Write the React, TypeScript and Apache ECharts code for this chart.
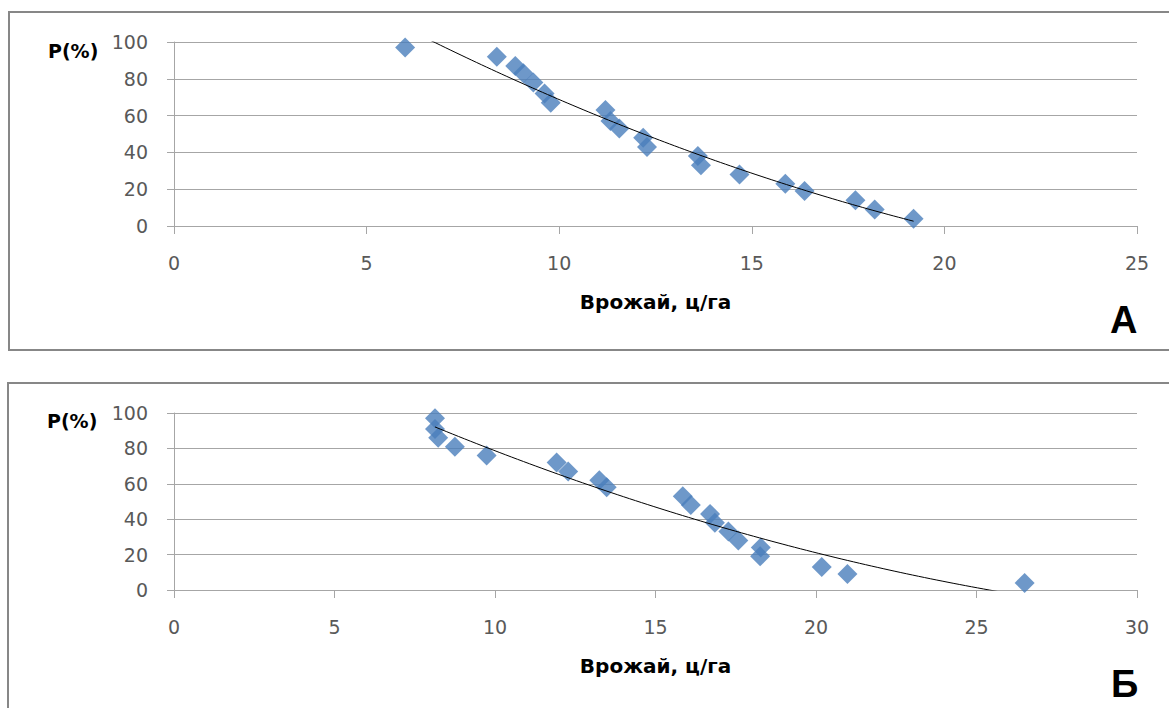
import React, { useEffect, useRef } from "react";
import * as echarts from "echarts";

// Chart A data
const yieldA = [6.0, 8.38, 8.86, 9.07, 9.33, 9.62, 9.78, 11.2, 11.33, 11.56, 12.18, 12.28, 13.6, 13.68, 14.68, 15.87, 16.37, 17.69, 18.19, 19.2];
const probA = [97, 92, 87, 83, 78, 72, 67, 63, 57, 53, 48, 43, 38, 33, 28, 23, 19, 14, 9, 4];

// Chart Б data
const yieldB = [8.13, 8.13, 8.23, 8.75, 9.74, 11.92, 12.28, 13.25, 13.48, 15.85, 16.1, 16.7, 16.85, 17.27, 17.58, 18.28, 18.26, 20.18, 20.98, 26.5];
const probB = [97, 91, 86, 81, 76, 72, 67, 62, 58, 53, 48, 43, 38, 33, 28, 24, 19, 13, 9, 4];

const yTicks = [0, 20, 40, 60, 80, 100];
const xMaxA = 25;
const xMaxB = 30;

// least-squares polynomial (order 2) trendline
function quadFit(xs: number[], ys: number[]) {
  const n = xs.length;
  let s1 = 0, s2 = 0, s3 = 0, s4 = 0, t0 = 0, t1 = 0, t2 = 0;
  for (let i = 0; i < n; i++) {
    const x = xs[i], y = ys[i];
    s1 += x; s2 += x * x; s3 += x * x * x; s4 += x * x * x * x;
    t0 += y; t1 += x * y; t2 += x * x * y;
  }
  const M = [
    [n, s1, s2, t0],
    [s1, s2, s3, t1],
    [s2, s3, s4, t2],
  ];
  for (let c = 0; c < 3; c++) {
    let p = c;
    for (let r = c + 1; r < 3; r++) if (Math.abs(M[r][c]) > Math.abs(M[p][c])) p = r;
    [M[c], M[p]] = [M[p], M[c]];
    for (let r = 0; r < 3; r++) {
      if (r === c) continue;
      const f = M[r][c] / M[c][c];
      for (let k = c; k < 4; k++) M[r][k] -= f * M[c][k];
    }
  }
  const a = M[0][3] / M[0][0], b = M[1][3] / M[1][1], cc = M[2][3] / M[2][2];
  return (x: number) => a + b * x + cc * x * x;
}

function trend(xs: number[], ys: number[]) {
  const f = quadFit(xs, ys);
  const lo = Math.min(...xs), hi = Math.max(...xs);
  const pts: number[][] = [];
  const steps = 100;
  for (let i = 0; i <= steps; i++) {
    const x = lo + ((hi - lo) * i) / steps;
    pts.push([x, f(x)]);
  }
  return pts;
}

const FONT = "'DejaVu Sans', Verdana, sans-serif";
const GRID_COLOR = "#a6a6a6";
const LABEL_COLOR = "#595959";

function xAxisCfg(gridIndex: number, max: number, gap: number) {
  return {
    gridIndex,
    type: "value",
    min: 0,
    max,
    interval: 5,
    name: "Врожай, ц/га",
    nameLocation: "middle",
    nameGap: gap,
    nameTextStyle: { fontFamily: FONT, fontWeight: "bold", fontSize: 20, color: "#000" },
    axisLine: { show: true, onZero: false, lineStyle: { color: GRID_COLOR, width: 1 } },
    axisTick: { show: true, length: 8, lineStyle: { color: GRID_COLOR } },
    axisLabel: { fontFamily: FONT, fontSize: 19, color: LABEL_COLOR, margin: 27 },
    splitLine: { show: false },
  };
}

function yAxisCfg(gridIndex: number) {
  return {
    gridIndex,
    type: "value",
    min: yTicks[0],
    max: yTicks[yTicks.length - 1],
    interval: 20,
    axisLine: { show: true, lineStyle: { color: GRID_COLOR, width: 1 } },
    axisTick: { show: true, length: 7, lineStyle: { color: GRID_COLOR } },
    axisLabel: { fontFamily: FONT, fontSize: 19, color: LABEL_COLOR, margin: 26 },
    splitLine: { show: true, lineStyle: { color: GRID_COLOR, width: 1 } },
  };
}

export default function App() {
  const ref = useRef<HTMLDivElement>(null);
  useEffect(() => {
    if (!ref.current) return;
    const chart = echarts.init(ref.current, undefined, { renderer: "svg" });
    const scatterStyle = { color: "#4a7ebb" };
    chart.setOption({
      animation: false,
      backgroundColor: "#ffffff",
      grid: [
        { left: 174, right: 32, top: 42, height: 184 },
        { left: 174, right: 32, top: 413, height: 177 },
      ],
      xAxis: [xAxisCfg(0, xMaxA, 66), xAxisCfg(1, xMaxB, 66)],
      yAxis: [yAxisCfg(0), yAxisCfg(1)],
      graphic: [
        { type: "rect", shape: { x: 9, y: 12, width: 1180, height: 338 }, style: { fill: "none", stroke: "#878787", lineWidth: 2 }, silent: true },
        { type: "rect", shape: { x: 8, y: 383, width: 1180, height: 360 }, style: { fill: "none", stroke: "#878787", lineWidth: 2 }, silent: true },
        { type: "text", x: 48, y: 41, style: { text: "P(%)", fontFamily: FONT, fontWeight: "bold", fontSize: 19, fill: "#000" } },
        { type: "text", x: 47, y: 411, style: { text: "P(%)", fontFamily: FONT, fontWeight: "bold", fontSize: 19, fill: "#000" } },
        { type: "text", x: 1110, y: 301, style: { text: "A", fontFamily: "'Liberation Sans', Arial, sans-serif", fontWeight: "bold", fontSize: 38, fill: "#000" } },
        { type: "text", x: 1111, y: 665, style: { text: "Б", fontFamily: "'Liberation Sans', Arial, sans-serif", fontWeight: "bold", fontSize: 38, fill: "#000" } },
      ],
      series: [
        {
          type: "scatter", xAxisIndex: 0, yAxisIndex: 0, symbol: "diamond", symbolSize: 20,
          itemStyle: scatterStyle, data: yieldA.map((x, i) => [x, probA[i]]), z: 3,
        },
        {
          type: "line", xAxisIndex: 0, yAxisIndex: 0, showSymbol: false, smooth: false, clip: true,
          lineStyle: { color: "#000", width: 1 }, data: trend(yieldA, probA), z: 4,
        },
        {
          type: "scatter", xAxisIndex: 1, yAxisIndex: 1, symbol: "diamond", symbolSize: 20,
          itemStyle: scatterStyle, data: yieldB.map((x, i) => [x, probB[i]]), z: 3,
        },
        {
          type: "line", xAxisIndex: 1, yAxisIndex: 1, showSymbol: false, smooth: false, clip: true,
          lineStyle: { color: "#000", width: 1 }, data: trend(yieldB, probB), z: 4,
        },
      ],
    });
    return () => chart.dispose();
  }, []);
  return (
    <div
      ref={ref}
      style={{ position: "fixed", left: 0, top: 0, width: 1169, height: 708, background: "#fff" }}
    />
  );
}
